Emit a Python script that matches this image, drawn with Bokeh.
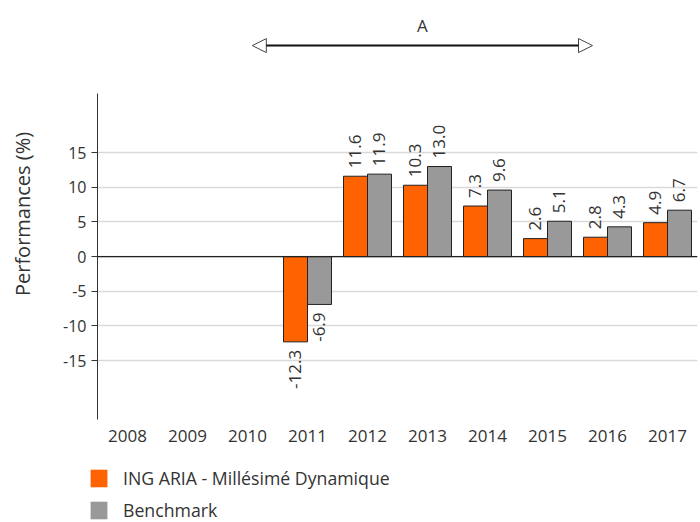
import math
from bokeh.plotting import figure
from bokeh.layouts import column, row
from bokeh.models import (ColumnDataSource, FactorRange, Range1d, FixedTicker, Span,
                          Arrow, NormalHead, Label, LabelSet, Legend, LegendItem)
from bokeh.transform import dodge
from bokeh.embed import file_html
from bokeh.resources import INLINE
from bokeh.core.properties import value

# ---------------- data ----------------
years = ["2008", "2009", "2010", "2011", "2012", "2013", "2014", "2015", "2016", "2017"]
ing_values = [None, None, None, -12.3, 11.6, 10.3, 7.3, 2.6, 2.8, 4.9]
bench_values = [None, None, None, -6.9, 11.9, 13.0, 9.6, 5.1, 4.3, 6.7]
series_names = ["ING ARIA - Millésimé Dynamique", "Benchmark"]
series_colors = ["#FF6200", "#999999"]
y_ticks = [-15, -10, -5, 0, 5, 10, 15]
y_label = "Performances (%)"
period_label = "A"

FONT = "Open Sans"
TXT = "#333333"

p = figure(x_range=FactorRange(factors=years, range_padding=0),
           y_range=Range1d(-23.5, 35.8),
           width=700, height=459, output_backend="svg", toolbar_location=None,
           min_border_left=97, min_border_right=3, min_border_top=8, min_border_bottom=40)
p.outline_line_color = None
p.background_fill_color = "white"
p.border_fill_color = "white"

# y axis
ya = p.yaxis[0]
ya.ticker = FixedTicker(ticks=y_ticks)
ya.major_label_overrides = {t: str(t) for t in y_ticks}
ya.bounds = (-23.5, 23.5)
ya.axis_line_color = "#333333"
ya.major_tick_line_color = "#333333"
ya.major_tick_out = 6
ya.major_tick_in = 0
ya.minor_tick_line_color = None
ya.major_label_text_font = FONT
ya.major_label_text_font_size = "16px"
ya.major_label_text_color = TXT
ya.axis_label = y_label
ya.axis_label_text_font = FONT
ya.axis_label_text_font_size = "20px"
ya.axis_label_text_font_style = "normal"
ya.axis_label_text_color = TXT
ya.axis_label_standoff = 24

# x axis
xa = p.xaxis[0]
xa.axis_line_color = None
xa.major_tick_line_color = None
xa.major_tick_in = 0
xa.major_tick_out = 0
xa.minor_tick_line_color = None
xa.major_label_standoff = 10
xa.major_label_text_font = FONT
xa.major_label_text_font_size = "17px"
xa.major_label_text_color = TXT

p.xgrid.grid_line_color = None
p.ygrid.grid_line_color = "#d9d9d9"
p.ygrid.grid_line_width = 1.5
p.ygrid.ticker = FixedTicker(ticks=y_ticks)

# legend figure
lf = figure(width=700, height=63, output_backend="svg", toolbar_location=None,
            x_axis_type=None, y_axis_type=None, x_range=Range1d(0, 1), y_range=Range1d(0, 1),
            min_border_left=0, min_border_right=0, min_border_top=0, min_border_bottom=0)
lf.outline_line_color = None
lf.xgrid.grid_line_color = None
lf.ygrid.grid_line_color = None

offsets = [-0.2, 0.2]
legend_items = []
for name, vals, color, off in zip(series_names, [ing_values, bench_values], series_colors, offsets):
    xs = [y for y, v in zip(years, vals) if v is not None]
    vs = [v for v in vals if v is not None]
    src = ColumnDataSource(dict(year=xs, val=vs))
    p.vbar(x=dodge("year", off, range=p.x_range), top="val", bottom=0, width=0.4,
           source=src, fill_color=color, line_color="#222222", line_width=1)
    # legend-only renderer (no outline), kept outside the legend figure's view
    dummy = lf.vbar(x=[-5], top=[-5], bottom=[-6], width=0.4, fill_color=color,
                    line_color=color, line_alpha=0)
    legend_items.append(LegendItem(label=name, renderers=[dummy]))

    pos = ColumnDataSource(dict(year=[x for x, v in zip(xs, vs) if v >= 0],
                                val=[v for v in vs if v >= 0],
                                txt=[f"{v:.1f}" for v in vs if v >= 0]))
    neg = ColumnDataSource(dict(year=[x for x, v in zip(xs, vs) if v < 0],
                                val=[v for v in vs if v < 0],
                                txt=[f"{v:.1f}" for v in vs if v < 0]))
    p.add_layout(LabelSet(x=dodge("year", off, range=p.x_range), y="val", text="txt", source=pos,
                          angle=math.pi / 2, text_align="left", text_baseline="middle",
                          y_offset=8, text_font=value(FONT), text_font_size="17px",
                          text_color=TXT))
    p.add_layout(LabelSet(x=dodge("year", off, range=p.x_range), y="val", text="txt", source=neg,
                          angle=math.pi / 2, text_align="right", text_baseline="middle",
                          y_offset=-8, text_font=value(FONT), text_font_size="17px",
                          text_color=TXT))

# zero line
p.add_layout(Span(location=0, dimension="width", line_color="#222222", line_width=1.2))

# period arrow
ax0, ax1, ay = 2.58, 8.25, 30.45
p.add_layout(Arrow(x_start=ax0, y_start=ay, x_end=ax1, y_end=ay, line_color="#111111", line_width=2,
                   start=NormalHead(size=14, fill_color="white", line_color="#444444", line_width=1),
                   end=NormalHead(size=14, fill_color="white", line_color="#444444", line_width=1)))
p.add_layout(Label(x=(ax0 + ax1) / 2, y=33.3, text=period_label, text_align="center",
                   text_baseline="middle", text_font=FONT, text_font_size="17px", text_color=TXT))

legend = Legend(items=legend_items, location=(88, 0), orientation="vertical",
                glyph_width=21, glyph_height=22, label_standoff=14, spacing=8,
                padding=0, margin=0, border_line_color=None, background_fill_alpha=0,
                label_text_font=FONT, label_text_font_size="17.7px", label_text_color=TXT)
lf.add_layout(legend, "center")

layout = column(p, row(lf), spacing=0)
open("out.html", "w").write(file_html(layout, INLINE))
